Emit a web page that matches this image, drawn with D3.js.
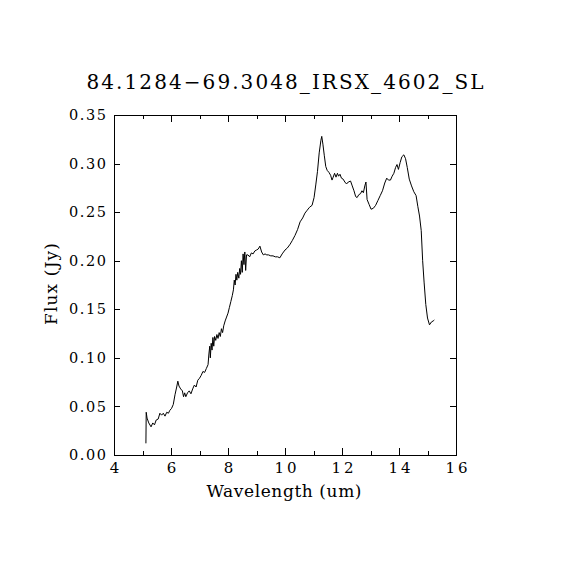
<!DOCTYPE html>
<html>
<head>
<meta charset="utf-8">
<script src="https://cdn.jsdelivr.net/npm/d3@7"></script>
<style>
  body { margin: 0; background: #fff; }
  text { font-family: "DejaVu Serif", serif; fill: #000; }
</style>
</head>
<body>
<div id="chart"></div>
<script>
const title = '84.1284\u221269.3048_IRSX_4602_SL';

const wavelength = [
  5.12, 5.13, 5.16, 5.22, 5.30, 5.36, 5.42, 5.48, 5.55, 5.61, 5.67, 5.73, 5.79, 5.85, 5.91, 5.96,
  6.02, 6.08, 6.14, 6.20, 6.24, 6.28, 6.34, 6.40, 6.44, 6.48, 6.52, 6.58, 6.64, 6.70, 6.76, 6.82,
  6.88, 6.94, 7.00, 7.06, 7.12, 7.18, 7.24, 7.30, 7.33, 7.36, 7.38, 7.41, 7.44, 7.47, 7.50, 7.53,
  7.57, 7.61, 7.65, 7.69, 7.73, 7.77, 7.81, 7.85, 7.90, 7.95, 8.00, 8.05, 8.10, 8.15, 8.19, 8.22,
  8.25, 8.28, 8.31, 8.34, 8.38, 8.41, 8.44, 8.47, 8.50, 8.53, 8.56, 8.59, 8.62, 8.65, 8.70, 8.76,
  8.82, 8.88, 8.94, 9.00, 9.06, 9.12, 9.18, 9.24, 9.30, 9.36, 9.42, 9.50, 9.58, 9.66, 9.74, 9.82,
  9.90, 10.00, 10.08, 10.18, 10.26, 10.35, 10.44, 10.53, 10.62, 10.70, 10.78, 10.86, 10.95, 11.02,
  11.08, 11.14, 11.20, 11.26, 11.29, 11.33, 11.38, 11.43, 11.48, 11.54, 11.60, 11.65, 11.69, 11.74,
  11.79, 11.84, 11.88, 11.93, 11.98, 12.04, 12.10, 12.16, 12.22, 12.30, 12.36, 12.42, 12.48, 12.53,
  12.59, 12.65, 12.70, 12.75, 12.80, 12.84, 12.88, 12.95, 13.02, 13.10, 13.18, 13.26, 13.34, 13.42,
  13.50, 13.57, 13.63, 13.70, 13.76, 13.82, 13.88, 13.93, 13.98, 14.04, 14.10, 14.17, 14.23, 14.29,
  14.36, 14.44, 14.52, 14.60, 14.66, 14.72, 14.78, 14.83, 14.88, 14.94, 15.00, 15.07, 15.14, 15.20,
  15.24
];

const flux = [
  0.012, 0.044, 0.038, 0.033, 0.029, 0.033, 0.031, 0.036, 0.037, 0.043, 0.041, 0.043, 0.040, 0.044, 0.043, 0.046,
  0.048, 0.052, 0.062, 0.070, 0.076, 0.071, 0.068, 0.066, 0.060, 0.064, 0.060, 0.064, 0.066, 0.063, 0.068, 0.072,
  0.070, 0.077, 0.079, 0.082, 0.086, 0.085, 0.089, 0.093, 0.104, 0.112, 0.100, 0.115, 0.108, 0.121, 0.112, 0.122,
  0.118, 0.124, 0.120, 0.126, 0.122, 0.130, 0.126, 0.133, 0.138, 0.142, 0.146, 0.152, 0.158, 0.164, 0.170, 0.180,
  0.175, 0.186, 0.180, 0.188, 0.182, 0.192, 0.186, 0.200, 0.188, 0.207, 0.196, 0.209, 0.190, 0.206, 0.206, 0.204,
  0.208, 0.207, 0.210, 0.211, 0.212, 0.215, 0.209, 0.206, 0.207, 0.206, 0.206, 0.205, 0.205, 0.204, 0.204, 0.203,
  0.207, 0.211, 0.213, 0.217, 0.221, 0.226, 0.232, 0.240, 0.244, 0.249, 0.252, 0.255, 0.257, 0.265,
  0.278, 0.292, 0.311, 0.324, 0.328, 0.320, 0.308, 0.297, 0.293, 0.291, 0.288, 0.283, 0.286, 0.290,
  0.286, 0.290, 0.287, 0.289, 0.285, 0.284, 0.281, 0.279, 0.281, 0.282, 0.277, 0.272, 0.266, 0.265,
  0.268, 0.269, 0.272, 0.270, 0.277, 0.281, 0.263, 0.258, 0.253, 0.254, 0.257, 0.262, 0.267, 0.272,
  0.280, 0.285, 0.283, 0.283, 0.287, 0.290, 0.296, 0.299, 0.294, 0.301, 0.307, 0.309, 0.305, 0.296,
  0.284, 0.277, 0.271, 0.267, 0.256, 0.246, 0.231, 0.200, 0.178, 0.155, 0.141, 0.134, 0.137, 0.138,
  0.139
];

const xTicks = [4, 6, 8, 10, 12, 14, 16];
const xMinorTicks = [5, 7, 9, 11, 13, 15];
const yTicks = [0, 0.05, 0.10, 0.15, 0.20, 0.25, 0.30, 0.35];

const width = 570, height = 570;
const plotLeft = 114, plotRight = 456, plotTop = 115, plotBottom = 455;

const svg = d3.select('#chart')
  .append('svg')
  .attr('width', width)
  .attr('height', height);

const xScale = d3.scaleLinear().domain([4, 16]).range([plotLeft, plotRight]);
const yScale = d3.scaleLinear().domain([0, 0.35]).range([plotBottom, plotTop]);

// frame
svg.append('rect')
  .attr('x', plotLeft).attr('y', plotTop)
  .attr('width', plotRight - plotLeft).attr('height', plotBottom - plotTop)
  .attr('fill', 'none').attr('stroke', '#000').attr('stroke-width', 1)
  .attr('shape-rendering', 'crispEdges');

// bottom axis with labels, inward ticks
const xAxis = d3.axisBottom(xScale).tickValues(xTicks).tickSize(-7).tickPadding(7)
  .tickFormat(d3.format('d'));
const gx = svg.append('g').attr('transform', `translate(0,${plotBottom})`).call(xAxis);
gx.select('.domain').remove();
gx.selectAll('text')
  .attr('font-size', 15)
  .attr('font-family', '"DejaVu Serif", serif')
  .attr('textLength', 22)
  .attr('lengthAdjust', 'spacing');
gx.selectAll('text').filter(d => d < 10).attr('textLength', null);

svg.append('g').attr('transform', `translate(0,${plotBottom})`)
  .call(d3.axisBottom(xScale).tickValues(xMinorTicks).tickSize(-4).tickFormat(''))
  .select('.domain').remove();

// top ticks
svg.append('g').attr('transform', `translate(0,${plotTop})`)
  .call(d3.axisTop(xScale).tickValues(xTicks).tickSize(-7).tickFormat(''))
  .select('.domain').remove();
svg.append('g').attr('transform', `translate(0,${plotTop})`)
  .call(d3.axisTop(xScale).tickValues(xMinorTicks).tickSize(-4).tickFormat(''))
  .select('.domain').remove();

// left axis
const yAxis = d3.axisLeft(yScale).tickValues(yTicks).tickSize(-6).tickPadding(8)
  .tickFormat(d3.format('.2f'));
const gy = svg.append('g').attr('transform', `translate(${plotLeft},0)`).call(yAxis);
gy.select('.domain').remove();
gy.selectAll('text')
  .attr('font-size', 14.5)
  .attr('font-family', '"DejaVu Serif", serif')
  .attr('textLength', 37)
  .attr('lengthAdjust', 'spacing');

// right ticks
svg.append('g').attr('transform', `translate(${plotRight},0)`)
  .call(d3.axisRight(yScale).tickValues(yTicks).tickSize(-6).tickFormat(''))
  .select('.domain').remove();

svg.selectAll('.tick line').attr('stroke', '#000').attr('shape-rendering', 'crispEdges');

// spectrum
const points = wavelength.map((w, i) => [w, flux[i]]);
const line = d3.line().x(d => xScale(d[0])).y(d => yScale(d[1]));
svg.append('path')
  .datum(points)
  .attr('d', line)
  .attr('fill', 'none')
  .attr('stroke', '#000')
  .attr('stroke-width', 1);

// title and axis labels
svg.append('text')
  .attr('x', 285).attr('y', 89)
  .attr('text-anchor', 'middle')
  .attr('font-size', 20)
  .attr('textLength', 397)
  .attr('lengthAdjust', 'spacing')
  .text(title);

svg.append('text')
  .attr('x', 284).attr('y', 497)
  .attr('text-anchor', 'middle')
  .attr('font-size', 17)
  .attr('textLength', 155)
  .attr('lengthAdjust', 'spacing')
  .text('Wavelength (um)');

svg.append('text')
  .attr('transform', `translate(57,284) rotate(-90)`)
  .attr('text-anchor', 'middle')
  .attr('font-size', 17)
  .attr('textLength', 82)
  .attr('lengthAdjust', 'spacing')
  .text('Flux (Jy)');
</script>
</body>
</html>
